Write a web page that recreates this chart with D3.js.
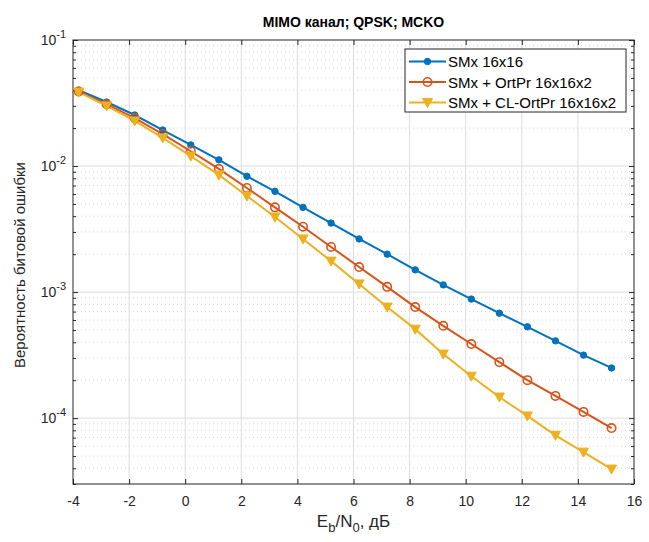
<!DOCTYPE html>
<html>
<head>
<meta charset="utf-8">
<script src="https://cdn.jsdelivr.net/npm/d3@7"></script>
<style>
  body { margin: 0; background: #fff; }
  text { font-family: "Liberation Sans", Arial, sans-serif; }
</style>
</head>
<body>
<svg id="chart" width="649" height="542"></svg>
<script>
// Eb/N0 points, dB
const ebno = [-3.8, -2.8, -1.8, -0.8, 0.2, 1.2, 2.2, 3.2, 4.2, 5.2,
              6.2, 7.2, 8.2, 9.2, 10.2, 11.2, 12.2, 13.2, 14.2, 15.2];

const berSMx = [0.040, 0.0322, 0.0254, 0.0193, 0.0147, 0.0112, 0.0083, 0.0063, 0.0047, 0.00353,
                0.00264, 0.0020, 0.0015, 0.00114, 0.00088, 0.00068, 0.00053, 0.00041, 0.000316, 0.00025];
const berOrtPr = [0.039, 0.031, 0.024, 0.0179, 0.0131, 0.0095, 0.0067, 0.0047, 0.0033, 0.00228,
                  0.00158, 0.0011, 0.00076, 0.00054, 0.000387, 0.000278, 0.0002, 0.00015, 0.000112, 0.0000834];
const berClOrtPr = [0.0386, 0.030, 0.0228, 0.0167, 0.012, 0.0085, 0.00578, 0.00394, 0.00264, 0.00176,
                    0.00116, 0.00076, 0.000508, 0.000322, 0.000215, 0.000147, 0.000104, 0.000073, 0.0000537, 0.0000394];

const seriesNames = ["SMx 16x16", "SMx + OrtPr 16x16x2", "SMx + CL-OrtPr 16x16x2"];
const xTicks = [-4, -2, 0, 2, 4, 6, 8, 10, 12, 14, 16];
const yDecades = [1e-1, 1e-2, 1e-3, 1e-4];
const yExponents = ["-1", "-2", "-3", "-4"];

const colors = ["#0072BD", "#D95319", "#EDB120"];
const series = [berSMx, berOrtPr, berClOrtPr];

const svg = d3.select("#chart");
const plotLeft = 73, plotRight = 634, plotTop = 40, plotBottom = 484;

const x = d3.scaleLinear().domain([-4, 16]).range([plotLeft, plotRight]);
const y = d3.scaleLog().domain([3e-5, 1e-1]).range([plotBottom, plotTop]);

// minor values for log grid
const minorVals = [];
[1e-5, 1e-4, 1e-3, 1e-2].forEach(function (dec) {
    for (let m = 2; m <= 9; m++) {
        const v = dec * m;
        if (v > 3e-5 && v < 1e-1) minorVals.push(v);
    }
});

const grid = svg.append("g");
grid.selectAll(".minor")
    .data(minorVals)
    .enter()
    .append("line")
    .attr("x1", plotLeft).attr("x2", plotRight)
    .attr("y1", d => y(d)).attr("y2", d => y(d))
    .style("stroke", "#c8c8c8")
    .style("stroke-width", 0.8)
    .style("stroke-dasharray", "1,3");

grid.selectAll(".vmajor")
    .data(xTicks.slice(1, -1))
    .enter()
    .append("line")
    .attr("x1", d => x(d)).attr("x2", d => x(d))
    .attr("y1", plotTop).attr("y2", plotBottom)
    .style("stroke", "#dcdcdc")
    .style("stroke-width", 1);

grid.selectAll(".hmajor")
    .data(yDecades.slice(1))
    .enter()
    .append("line")
    .attr("x1", plotLeft).attr("x2", plotRight)
    .attr("y1", d => y(d)).attr("y2", d => y(d))
    .style("stroke", "#dcdcdc")
    .style("stroke-width", 1);

// axes with inward ticks on all sides
const axisColor = "#262626";
const xb = svg.append("g").attr("transform", `translate(0,${plotBottom})`)
    .call(d3.axisBottom(x).tickValues(xTicks).tickSizeInner(-5).tickSizeOuter(0).tickFormat(d => String(d)));
const xt = svg.append("g").attr("transform", `translate(0,${plotTop})`)
    .call(d3.axisTop(x).tickValues(xTicks).tickSizeInner(-5).tickSizeOuter(0).tickFormat(""));
const yl = svg.append("g").attr("transform", `translate(${plotLeft},0)`)
    .call(d3.axisLeft(y).tickValues(yDecades).tickSizeInner(-5).tickSizeOuter(0).tickFormat(""));
const yr = svg.append("g").attr("transform", `translate(${plotRight},0)`)
    .call(d3.axisRight(y).tickValues(yDecades).tickSizeInner(-5).tickSizeOuter(0).tickFormat(""));
const ylm = svg.append("g").attr("transform", `translate(${plotLeft},0)`)
    .call(d3.axisLeft(y).tickValues(minorVals).tickSizeInner(-3).tickSizeOuter(0).tickFormat(""));
const yrm = svg.append("g").attr("transform", `translate(${plotRight},0)`)
    .call(d3.axisRight(y).tickValues(minorVals).tickSizeInner(-3).tickSizeOuter(0).tickFormat(""));

[xb, xt, yl, yr, ylm, yrm].forEach(function (g) {
    g.select(".domain").remove();
    g.selectAll("line").style("stroke", axisColor);
});
xb.selectAll("text")
    .attr("y", 12)
    .style("font-size", "14px")
    .style("fill", "#262626");

svg.append("rect")
    .attr("x", plotLeft).attr("y", plotTop)
    .attr("width", plotRight - plotLeft).attr("height", plotBottom - plotTop)
    .style("fill", "none")
    .style("stroke", axisColor)
    .style("stroke-width", 1);

// y tick labels 10^n
const ylab = svg.selectAll(".ylab")
    .data(yDecades)
    .enter()
    .append("text")
    .attr("x", plotLeft - 7)
    .attr("y", d => y(d) + 5)
    .attr("text-anchor", "end")
    .style("font-size", "14px")
    .style("fill", "#262626");
ylab.append("tspan").text("10");
ylab.append("tspan")
    .attr("dy", -7)
    .style("font-size", "11px")
    .text((d, i) => yExponents[i]);

// lines and markers
const line = d3.line()
    .x((d, i) => x(ebno[i]))
    .y(d => y(d));

series.forEach(function (vals, si) {
    svg.append("path")
        .datum(vals)
        .attr("d", line)
        .style("fill", "none")
        .style("stroke", colors[si])
        .style("stroke-width", 2);
});

function drawMarker(g, si, cx, cy) {
    if (si == 0) {
        g.append("circle").attr("cx", cx).attr("cy", cy).attr("r", 3.2)
            .style("fill", colors[0]).style("stroke", colors[0]);
    } else if (si == 1) {
        g.append("circle").attr("cx", cx).attr("cy", cy).attr("r", 4.2)
            .style("fill", "none").style("stroke", colors[1]).style("stroke-width", 1.6);
    } else {
        g.append("path")
            .attr("d", `M${cx - 5},${cy - 4}L${cx + 5},${cy - 4}L${cx},${cy + 5}Z`)
            .style("fill", colors[2]).style("stroke", colors[2]).style("stroke-width", 1);
    }
}

const markers = svg.append("g");
series.forEach(function (vals, si) {
    vals.forEach(function (v, i) {
        drawMarker(markers, si, x(ebno[i]), y(v));
    });
});

// legend
const leg = svg.append("g");
leg.append("rect")
    .attr("x", 405).attr("y", 49)
    .attr("width", 221).attr("height", 63)
    .style("fill", "#fff")
    .style("stroke", "#262626")
    .style("stroke-width", 1);
seriesNames.forEach(function (name, i) {
    const ly = 61.5 + i * 20.5;
    leg.append("line")
        .attr("x1", 409).attr("x2", 446)
        .attr("y1", ly).attr("y2", ly)
        .style("stroke", colors[i])
        .style("stroke-width", 2);
    drawMarker(leg, i, 427.5, ly);
    leg.append("text")
        .attr("x", 448).attr("y", ly + 5.5)
        .style("font-size", "15px")
        .style("fill", "#000")
        .text(name);
});

// title and axis labels
svg.append("text")
    .attr("x", (plotLeft + plotRight) / 2).attr("y", 27)
    .attr("text-anchor", "middle")
    .style("font-size", "14px")
    .style("font-weight", "bold")
    .style("fill", "#000")
    .text("MIMO канал; QPSK; MCKO");

const xl = svg.append("text")
    .attr("x", (plotLeft + plotRight) / 2).attr("y", 527)
    .attr("text-anchor", "middle")
    .style("font-size", "17px")
    .style("fill", "#262626");
xl.append("tspan").text("E");
xl.append("tspan").attr("dy", 5).style("font-size", "13px").text("b");
xl.append("tspan").attr("dy", -5).text("/N");
xl.append("tspan").attr("dy", 5).style("font-size", "13px").text("0");
xl.append("tspan").attr("dy", -5).text(", дБ");

svg.append("text")
    .attr("transform", `translate(25,${(plotTop + plotBottom) / 2 + 3}) rotate(-90)`)
    .attr("text-anchor", "middle")
    .style("font-size", "15px")
    .style("fill", "#262626")
    .text("Вероятность битовой ошибки");
</script>
</body>
</html>
